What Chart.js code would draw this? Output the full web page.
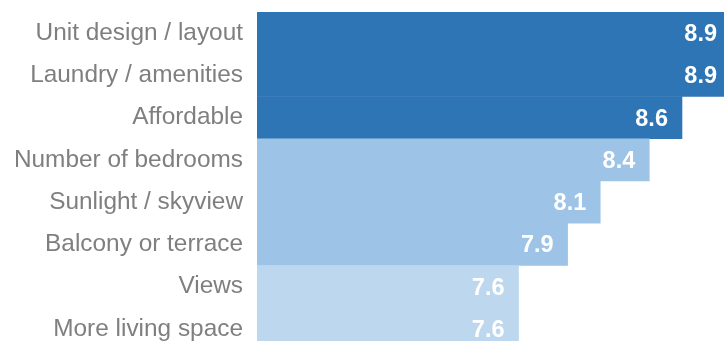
<!DOCTYPE html>
<html>
<head>
<meta charset="utf-8">
<script src="https://cdn.jsdelivr.net/npm/chart.js@4/dist/chart.umd.min.js"></script>
<style>
  html, body { margin: 0; padding: 0; background: #ffffff; overflow: hidden; width: 724px; height: 341px; }
  #wrap { position: absolute; left: 0; top: 0; }
</style>
</head>
<body>
<div id="wrap"><canvas id="c" width="731" height="351"></canvas></div>
<script>
// Ratings by apartment feature
const features = [
  'Unit design / layout',
  'Laundry / amenities',
  'Affordable',
  'Number of bedrooms',
  'Sunlight / skyview',
  'Balcony or terrace',
  'Views',
  'More living space'
];
const scores = [8.9, 8.9, 8.6, 8.4, 8.1, 7.9, 7.6, 7.6];
const scaleMin = 6;
const scaleMax = 8.9;

// Writes each bar's value inside its right end
const valueLabels = {
  id: 'valueLabels',
  afterDatasetsDraw(chart) {
    const ctx = chart.ctx;
    const meta = chart.getDatasetMeta(0);
    ctx.save();
    ctx.font = 'bold 23.5px "Liberation Sans", Arial, sans-serif';
    ctx.fillStyle = '#ffffff';
    ctx.textAlign = 'right';
    ctx.textBaseline = 'middle';
    meta.data.forEach((bar, i) => {
      ctx.fillText(scores[i].toFixed(1), bar.x - 14, bar.y + 1.5);
    });
    ctx.restore();
  }
};

new Chart(document.getElementById('c'), {
  type: 'bar',
  data: {
    labels: features,
    datasets: [{
      data: scores,
      backgroundColor: ['#2e75b6', '#2e75b6', '#2e75b6', '#9dc3e6', '#9dc3e6', '#9dc3e6', '#bdd7ee', '#bdd7ee'],
      borderWidth: 0,
      barPercentage: 1,
      categoryPercentage: 1
    }]
  },
  options: {
    indexAxis: 'y',
    responsive: false,
    animation: false,
    layout: { padding: { top: 12, bottom: 1, left: 0, right: 0 } },
    plugins: {
      legend: { display: false },
      tooltip: { enabled: false }
    },
    scales: {
      x: {
        display: false,
        min: scaleMin,
        max: scaleMax
      },
      y: {
        grid: { display: false, drawTicks: false },
        border: { display: false },
        ticks: {
          color: '#7f7f7f',
          padding: 14,
          font: { family: '"Liberation Sans", Arial, sans-serif', size: 24.4 }
        },
        afterFit(scale) {
          scale.width = 257;
          scale.paddingTop = 0;
          scale.paddingBottom = 0;
        }
      }
    }
  },
  plugins: [valueLabels]
});
</script>
</body>
</html>
